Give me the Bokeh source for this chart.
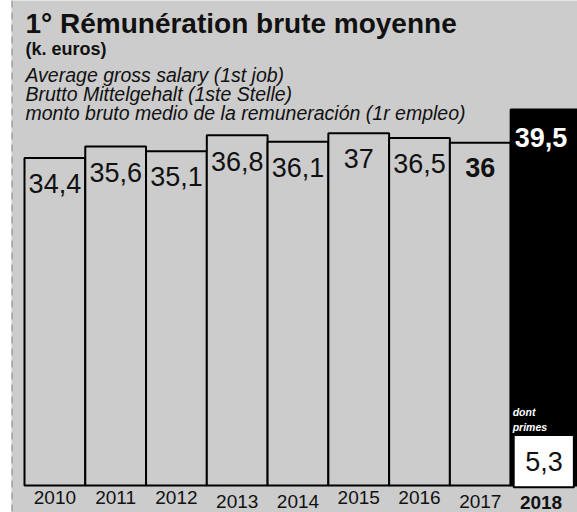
from bokeh.plotting import figure
from bokeh.models import Range1d, Span, ColumnDataSource
from bokeh.core.properties import value
from bokeh.embed import file_html
from bokeh.resources import INLINE

# ---- data ----
years = ["2010", "2011", "2012", "2013", "2014", "2015", "2016", "2017", "2018"]
salary = [34.4, 35.6, 35.1, 36.8, 36.1, 37.0, 36.5, 36.0, 39.5]
salary_labels = ["34,4", "35,6", "35,1", "36,8", "36,1", "37", "36,5", "36", "39,5"]
primes_2018 = 5.3
primes_label = "5,3"

title = "1° Rémunération brute moyenne"
subtitle = "(k. euros)"
lines_it = ["Average gross salary (1st job)",
            "Brutto Mittelgehalt (1ste Stelle)",
            "monto bruto medio de la remuneración (1r empleo)"]

# ---- styles / layout ----
W, H = 577, 512
BG = "#cccccc"
FONT = "Liberation Sans"
INK = "#111111"
label_weight = ["normal"] * 7 + ["bold", "bold"]
label_color = [INK] * 8 + ["white"]
bar_fill = [BG] * 8 + ["black"]
bar_extra_right = [0] * 8 + [0.1]
year_weight = ["normal"] * 8 + ["bold"]
year_drop = [12, 12, 12, 16, 16, 12, 12, 16, 17]
label_drop = [25, 26, 25, 26, 26, 25, 25, 25, 28]

X0, X1 = -0.714, 8.6
Y0, Y1 = -2.84, 50.95
PX_PER_Y = H / (Y1 - Y0)


def ydata(px_from_top):
    return Y1 - px_from_top / PX_PER_Y


xs = list(range(len(years)))

p = figure(width=W, height=H, output_backend="svg", toolbar_location=None,
           x_range=Range1d(X0, X1), y_range=Range1d(Y0, Y1),
           min_border_left=11, min_border_right=0, min_border_top=0, min_border_bottom=0)
p.xaxis.visible = False
p.yaxis.visible = False
p.grid.visible = False
p.background_fill_color = BG
p.border_fill_color = "white"
p.outline_line_color = None

p.add_layout(Span(location=X0, dimension="height", line_color="#8a8a8a",
                  line_width=2, line_dash="7 5"))

src = ColumnDataSource(dict(
    left=[x - 0.5 for x in xs],
    right=[x + 0.5 + e for x, e in zip(xs, bar_extra_right)],
    x=xs, top=salary, lab=salary_labels, fill=bar_fill,
    lw=label_weight, lc=label_color, ld=label_drop,
    yr=years, yw=year_weight, yd=year_drop, zero=[0] * len(xs)))

p.quad(left="left", right="right", top="top", bottom=0, source=src,
       fill_color="fill", line_color="black", line_width=2)

p.text(x="x", y="top", text="lab", source=src, text_align="center",
       text_baseline="middle", y_offset="ld", text_font=value(FONT),
       text_font_size="27px", text_font_style="lw", text_color="lc")

p.text(x="x", y="zero", text="yr", source=src, text_align="center",
       text_baseline="middle", y_offset="yd", text_font=value(FONT),
       text_font_size="19px", text_font_style="yw", text_color=INK)

# primes box in 2018
p.quad(left=[8 - 0.45], right=[8 + 0.54], top=[primes_2018], bottom=[-0.2],
       fill_color="white", line_color="black", line_width=2)
p.text(x=[8.05], y=[primes_2018 / 2], text=[primes_label], text_align="center",
       text_baseline="middle", y_offset=1, text_font=value(FONT),
       text_font_size="27px", text_color=INK)
for t, off in (("dont", -23), ("primes", -8)):
    p.text(x=[8 - 0.45], y=[primes_2018], text=[t], x_offset=-1, y_offset=off,
           text_align="left", text_baseline="middle",
           text_font=value(FONT), text_font_size="10.5px",
           text_font_style="bold italic", text_color="white")

# header texts (vertical centre of capitals, px from top)
HX = X0 + 14 / 61.0


def head(text, centre_px, size, style):
    p.text(x=[HX], y=[ydata(centre_px)], text=[text], text_align="left",
           text_baseline="middle", text_font=value(FONT),
           text_font_size=size, text_font_style=style, text_color=INK)


head(title, 23, "28px", "bold")
head(subtitle, 48, "18px", "bold")
for t, c in zip(lines_it, [74, 93, 112]):
    head(t, c, "19.5px", "italic")

open("out.html", "w").write(file_html(p, INLINE))
